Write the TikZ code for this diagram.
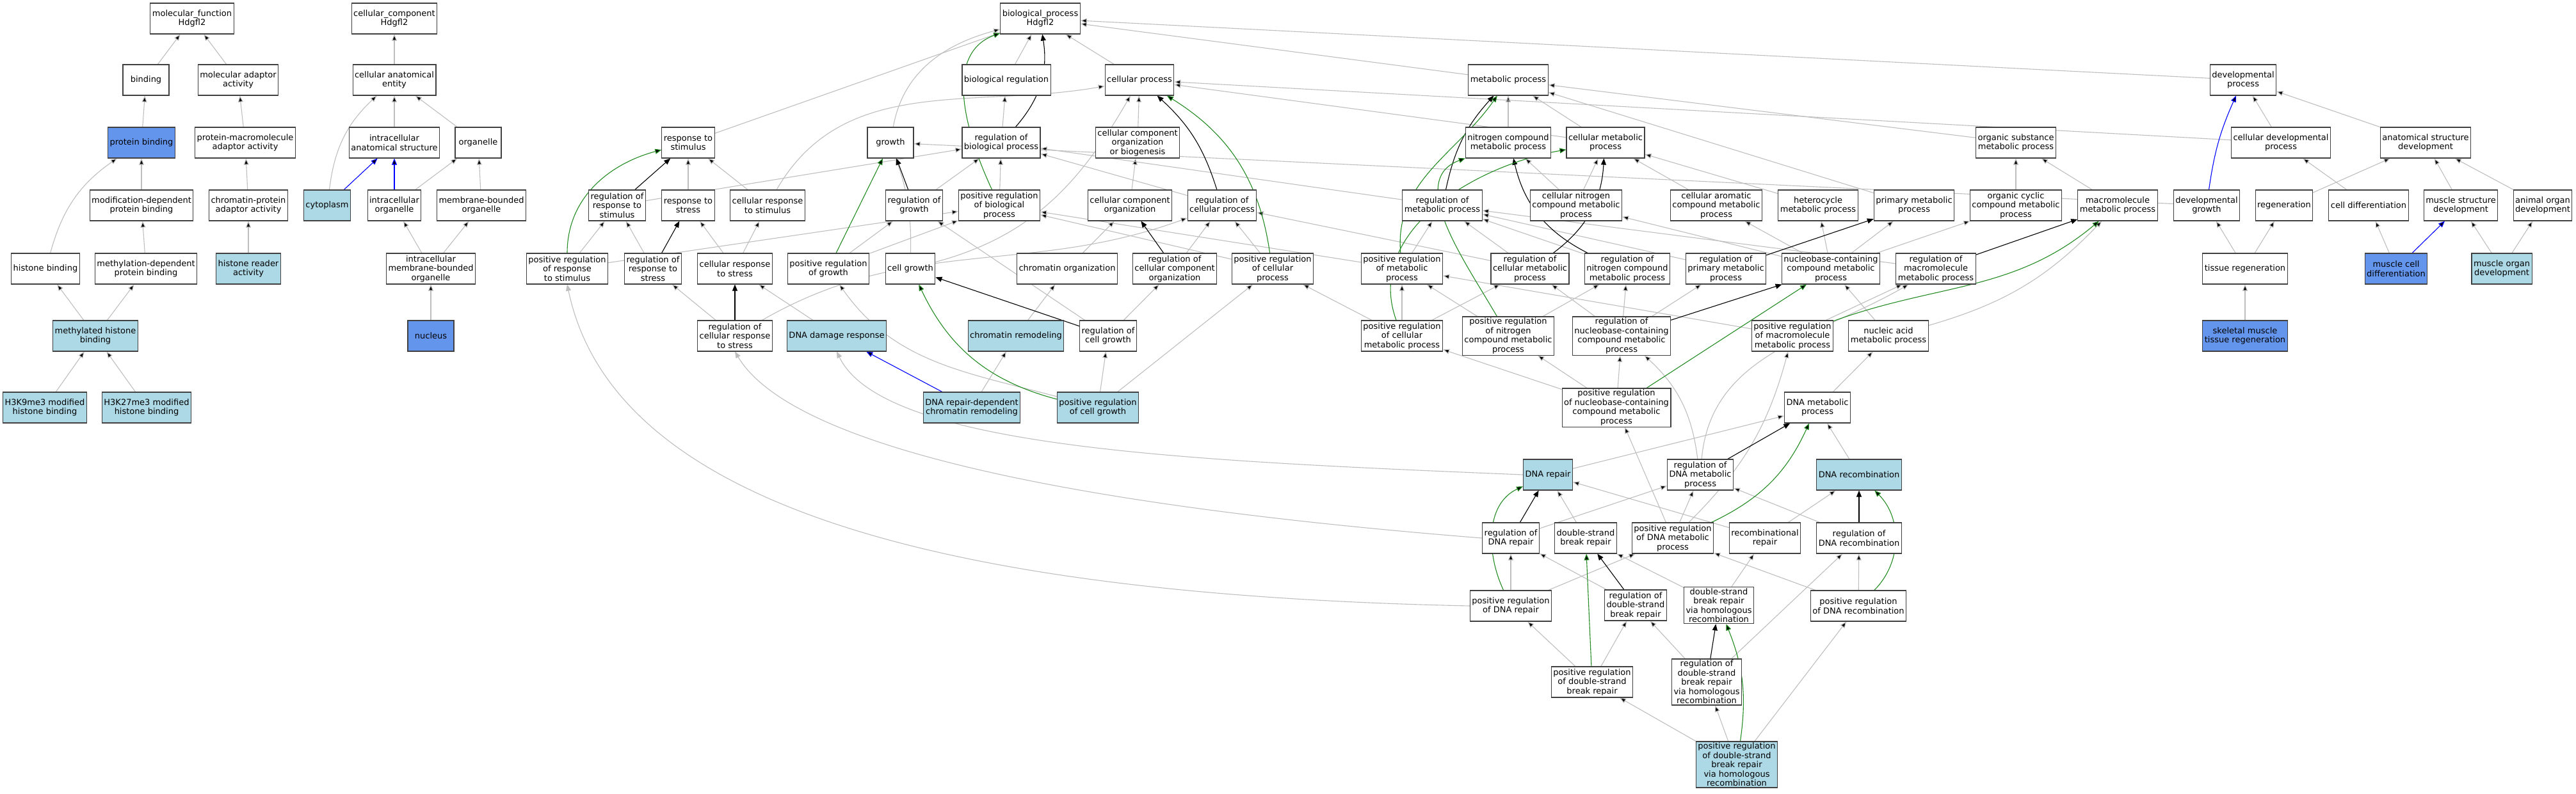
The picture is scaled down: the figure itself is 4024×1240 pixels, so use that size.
\documentclass[tikz,border=0pt]{standalone}
\usepackage{fontspec}
\setmainfont{DejaVu Sans}
\usetikzlibrary{arrows.meta,backgrounds}
\definecolor{hitblue}{HTML}{ADD8E6}
\definecolor{coreblue}{HTML}{6495ED}
\definecolor{isagray}{HTML}{BEBEBE}
\definecolor{posgreen}{HTML}{228B22}
\definecolor{boxgray}{HTML}{404040}
\tikzset{
  goterm/.style={draw=boxgray, line width=1.1pt, fill=white, align=center,
    minimum width=72pt, minimum height=48pt, inner xsep=3pt, inner ysep=2pt,
    font=\fontsize{13}{14.5}\selectfont},
  hit/.style={goterm, fill=hitblue},
  core/.style={goterm, fill=coreblue},
  gotip/.style={-{Triangle[length=10pt,width=8pt]}, line width=1.1pt},
  isa/.style={gotip, draw=isagray},
  regof/.style={gotip, draw=black},
  posof/.style={gotip, draw=posgreen},
  hilite/.style={gotip, draw=blue},
}

\begin{document}
\begin{tikzpicture}[x=1pt,y=1pt]
        \useasboundingbox (0,0) rectangle (4024,-1240);
        % molecular function
        \node[goterm] (mf) at (300,-29) {molecular\_function\\Hdgfl2};
        \node[goterm] (binding) at (228,-125) {binding};
        \node[goterm] (molad) at (372,-125) {molecular adaptor\\activity};
        \node[core] (pbind) at (221,-223) {protein binding};
        \node[goterm] (pmaa) at (383,-223) {protein-macromolecule\\adaptor activity};
        \node[goterm] (moddep) at (221,-321) {modification-dependent\\protein binding};
        \node[goterm] (cpaa) at (388,-321) {chromatin-protein\\adaptor activity};
        \node[goterm] (hbind) at (71,-420) {histone binding};
        \node[goterm] (methdep) at (228,-420) {methylation-dependent\\protein binding};
        \node[hit] (hra) at (388,-420) {histone reader\\activity};
        \node[hit] (mhb) at (149,-525) {methylated histone\\binding};
        \node[hit] (h3k9) at (70,-637) {H3K9me3 modified\\histone binding};
        \node[hit] (h3k27) at (229,-637) {H3K27me3 modified\\histone binding};
        % cellular component
        \node[goterm] (cc) at (616,-29) {cellular\_component\\Hdgfl2};
        \node[goterm] (cae) at (616,-125) {cellular anatomical\\entity};
        \node[goterm] (ias) at (616,-223) {intracellular\\anatomical structure};
        \node[goterm] (organelle) at (747,-223) {organelle};
        \node[hit] (cytoplasm) at (511,-321) {cytoplasm};
        \node[goterm] (intorg) at (616,-321) {intracellular\\organelle};
        \node[goterm] (mbo) at (752,-321) {membrane-bounded\\organelle};
        \node[goterm] (imbo) at (673,-420) {intracellular\\membrane-bounded\\organelle};
        \node[core] (nucleus) at (673,-525) {nucleus};
        % biological process
        \node[goterm] (bp) at (1625,-29) {biological\_process\\Hdgfl2};
        \node[goterm] (bioreg) at (1572,-125) {biological regulation};
        \node[goterm] (cellproc) at (1780,-125) {cellular process};
        \node[goterm] (metab) at (2356,-125) {metabolic process};
        \node[goterm] (devproc) at (3504,-125) {developmental\\process};
        \node[goterm] (respstim) at (1075,-223) {response to\\stimulus};
        \node[goterm] (growth) at (1391,-223) {growth};
        \node[goterm] (regbio) at (1564,-223) {regulation of\\biological process};
        \node[goterm] (ccoob) at (1777,-223) {cellular component\\organization\\or biogenesis};
        \node[goterm] (nitro) at (2356,-223) {nitrogen compound\\metabolic process};
        \node[goterm] (cellmetab) at (2508,-223) {cellular metabolic\\process};
        \node[goterm] (orgsub) at (3149,-223) {organic substance\\metabolic process};
        \node[goterm] (celldev) at (3563,-223) {cellular developmental\\process};
        \node[goterm] (anatdev) at (3789,-223) {anatomical structure\\development};
        \node[goterm] (regrespstim) at (964,-321) {regulation of\\response to\\stimulus};
        \node[goterm] (respstress) at (1075,-321) {response to\\stress};
        \node[goterm] (cellrespstim) at (1199,-321) {cellular response\\to stimulus};
        \node[goterm] (reggrowth) at (1428,-321) {regulation of\\growth};
        \node[goterm] (posregbio) at (1561,-321) {positive regulation\\of biological\\process};
        \node[goterm] (ccorg) at (1765,-321) {cellular component\\organization};
        \node[goterm] (regcell) at (1909,-321) {regulation of\\cellular process};
        \node[goterm] (regmetab) at (2253,-321) {regulation of\\metabolic process};
        \node[goterm] (cellnitro) at (2462,-321) {cellular nitrogen\\compound metabolic\\process};
        \node[goterm] (cellarom) at (2681,-321) {cellular aromatic\\compound metabolic\\process};
        \node[goterm] (hetero) at (2840,-321) {heterocycle\\metabolic process};
        \node[goterm] (primary) at (2990,-321) {primary metabolic\\process};
        \node[goterm] (orgcyc) at (3149,-321) {organic cyclic\\compound metabolic\\process};
        \node[goterm] (macromol) at (3308,-321) {macromolecule\\metabolic process};
        \node[goterm] (devgrowth) at (3447,-321) {developmental\\growth};
        \node[goterm] (regen) at (3568,-321) {regeneration};
        \node[goterm] (celldiff) at (3700,-321) {cell differentiation};
        \node[goterm] (musstruct) at (3844,-321) {muscle structure\\development};
        \node[goterm] (animorg) at (3972,-321) {animal organ\\development};
        \node[goterm] (posregrespstim) at (886,-420) {positive regulation\\of response\\to stimulus};
        \node[goterm] (regrespstress) at (1020,-420) {regulation of\\response to\\stress};
        \node[goterm] (cellrespstress) at (1148,-420) {cellular response\\to stress};
        \node[goterm] (posreggrowth) at (1294,-420) {positive regulation\\of growth};
        \node[goterm] (cellgrowth) at (1422,-420) {cell growth};
        \node[goterm] (chromorg) at (1667,-420) {chromatin organization};
        \node[goterm] (regccorg) at (1835,-420) {regulation of\\cellular component\\organization};
        \node[goterm] (posregcell) at (1988,-420) {positive regulation\\of cellular\\process};
        \node[goterm] (posregmetab) at (2190,-420) {positive regulation\\of metabolic\\process};
        \node[goterm] (regcellmetab) at (2390,-420) {regulation of\\cellular metabolic\\process};
        \node[goterm] (regnitro) at (2542,-420) {regulation of\\nitrogen compound\\metabolic process};
        \node[goterm] (regprimary) at (2696,-420) {regulation of\\primary metabolic\\process};
        \node[goterm] (nucleobase) at (2860,-420) {nucleobase-containing\\compound metabolic\\process};
        \node[goterm] (regmacromol) at (3024,-420) {regulation of\\macromolecule\\metabolic process};
        \node[goterm] (tissueregen) at (3507,-420) {tissue regeneration};
        \node[core] (muscelldiff) at (3743,-420) {muscle cell\\differentiation};
        \node[hit] (musorg) at (3908,-420) {muscle organ\\development};
        \node[goterm] (regcellrespstress) at (1148,-525) {regulation of\\cellular response\\to stress};
        \node[hit] (dnadamage) at (1307,-525) {DNA damage response};
        \node[hit] (chromremod) at (1587,-525) {chromatin remodeling};
        \node[goterm] (regcellgrowth) at (1731,-525) {regulation of\\cell growth};
        \node[goterm] (posregcellmetab) at (2190,-525) {positive regulation\\of cellular\\metabolic process};
        \node[goterm] (posregnitro) at (2356,-525) {positive regulation\\of nitrogen\\compound metabolic\\process};
        \node[goterm] (regnucleobase) at (2533,-525) {regulation of\\nucleobase-containing\\compound metabolic\\process};
        \node[goterm] (posregmacromol) at (2800,-525) {positive regulation\\of macromolecule\\metabolic process};
        \node[goterm] (nucleicacid) at (2950,-525) {nucleic acid\\metabolic process};
        \node[core] (skeletal) at (3507,-525) {skeletal muscle\\tissue regeneration};
        \node[hit] (dnarepchrom) at (1518,-637) {DNA repair-dependent\\chromatin remodeling};
        \node[hit] (posregcellgrowth) at (1715,-637) {positive regulation\\of cell growth};
        \node[goterm] (posregnucleobase) at (2525,-637) {positive regulation\\of nucleobase-containing\\compound metabolic\\process};
        \node[goterm] (dnametab) at (2839,-637) {DNA metabolic\\process};
        \node[hit] (dnarepair) at (2418,-742) {DNA repair};
        \node[goterm] (regdnametab) at (2656,-742) {regulation of\\DNA metabolic\\process};
        \node[hit] (dnarecomb) at (2904,-742) {DNA recombination};
        \node[goterm] (regdnarepair) at (2360,-841) {regulation of\\DNA repair};
        \node[goterm] (dsbrepair) at (2477,-841) {double-strand\\break repair};
        \node[goterm] (posregdnametab) at (2613,-841) {positive regulation\\of DNA metabolic\\process};
        \node[goterm] (recombrepair) at (2757,-841) {recombinational\\repair};
        \node[goterm] (regdnarecomb) at (2904,-841) {regulation of\\DNA recombination};
        \node[goterm] (posregdnarepair) at (2360,-947) {positive regulation\\of DNA repair};
        \node[goterm] (regdsb) at (2555,-946) {regulation of\\double-strand\\break repair};
        \node[goterm] (dsbhr) at (2685,-946) {double-strand\\break repair\\via homologous\\recombination};
        \node[goterm] (posregdnarecomb) at (2903,-947) {positive regulation\\of DNA recombination};
        \node[goterm] (posregdsb) at (2487,-1066) {positive regulation\\of double-strand\\break repair};
        \node[goterm] (regdsbhr) at (2666,-1066) {regulation of\\double-strand\\break repair\\via homologous\\recombination};
        \node[hit] (posregdsbhr) at (2713,-1195) {positive regulation\\of double-strand\\break repair\\via homologous\\recombination};

        \begin{pgfonlayer}{background}
        \path[isa]
        (binding) edge (mf)
        (molad) edge (mf)
        (pbind) edge (binding)
        (pmaa) edge (molad)
        (hbind) edge[bend left=20] (pbind)
        (moddep) edge (pbind)
        (cpaa) edge (pmaa)
        (methdep) edge (moddep)
        (hra) edge (cpaa)
        (mhb) edge (hbind)
        (mhb) edge (methdep)
        (h3k9) edge (mhb)
        (h3k27) edge (mhb)
        (cae) edge (cc)
        (ias) edge (cae)
        (cytoplasm) edge[bend left=20] (cae)
        (organelle) edge (cae)
        (intorg) edge (organelle)
        (mbo) edge (organelle)
        (imbo) edge (intorg)
        (imbo) edge (mbo)
        (nucleus) edge (imbo)
        % level 1 and 2
        (bioreg) edge (bp)
        (cellproc) edge (bp)
        (metab) edge (bp)
        (devproc) edge (bp)
        (respstim) edge (bp)
        (growth) edge[out=80,in=195] (bp)
        (regbio) edge (bioreg)
        (ccoob) edge (cellproc)
        (nitro) edge (metab)
        (cellmetab) edge (metab)
        (cellmetab) edge (cellproc)
        (orgsub) edge (metab)
        (celldev) edge (devproc)
        (celldev) edge (cellproc)
        (anatdev) edge (devproc)
        % level 3
        (regrespstim) edge (regbio)
        (respstress) edge (respstim)
        (cellrespstim) edge (respstim)
        (cellrespstim) edge[out=60,in=190] (cellproc)
        (reggrowth) edge (regbio)
        (posregbio) edge (regbio)
        (ccorg) edge (ccoob)
        (regcell) edge (regbio)
        (regmetab) edge (regbio)
        (cellnitro) edge (nitro)
        (cellnitro) edge (cellmetab)
        (cellarom) edge (cellmetab)
        (hetero) edge (cellmetab)
        (primary) edge (metab)
        (orgcyc) edge (orgsub)
        (macromol) edge (orgsub)
        (devgrowth) edge (growth)
        (regen) edge (anatdev)
        (celldiff) edge (celldev)
        (musstruct) edge (anatdev)
        (animorg) edge (anatdev)
        % level 4
        (posregrespstim) edge (regrespstim)
        (posregrespstim) edge (posregbio)
        (regrespstress) edge (regrespstim)
        (cellrespstress) edge (respstress)
        (cellrespstress) edge (cellrespstim)
        (posreggrowth) edge (reggrowth)
        (posreggrowth) edge (posregbio)
        (cellgrowth) edge[bend right=10] (growth)
        (cellgrowth) edge[out=15,in=240] (cellproc)
        (chromorg) edge (ccorg)
        (regccorg) edge (regcell)
        (posregcell) edge (regcell)
        (posregcell) edge (posregbio)
        (posregmetab) edge (regmetab)
        (posregmetab) edge (posregbio)
        (regcellmetab) edge (regmetab)
        (regcellmetab) edge (regcell)
        (regnitro) edge (regmetab)
        (regprimary) edge (regmetab)
        (nucleobase) edge (cellarom)
        (nucleobase) edge (cellnitro)
        (nucleobase) edge (hetero)
        (nucleobase) edge (primary)
        (nucleobase) edge (orgcyc)
        (regmacromol) edge (regmetab)
        (tissueregen) edge (devgrowth)
        (tissueregen) edge (regen)
        (muscelldiff) edge (celldiff)
        (musorg) edge (musstruct)
        (musorg) edge (animorg)
        % level 5
        (regcellrespstress) edge (regrespstress)
        (regcellrespstress) edge[out=30,in=200] (regcell)
        (dnadamage) edge (cellrespstress)
        (chromremod) edge (chromorg)
        (regcellgrowth) edge (reggrowth)
        (regcellgrowth) edge (regccorg)
        (posregcellmetab) edge (posregmetab)
        (posregcellmetab) edge (regcellmetab)
        (posregcellmetab) edge (posregcell)
        (posregnitro) edge (posregmetab)
        (posregnitro) edge (regnitro)
        (regnucleobase) edge (regnitro)
        (regnucleobase) edge (regcellmetab)
        (regnucleobase) edge (regprimary)
        (posregmacromol) edge (regmacromol)
        (posregmacromol) edge (posregmetab)
        (nucleicacid) edge (nucleobase)
        (nucleicacid) edge[bend right=15] (macromol)
        (skeletal) edge (tissueregen)
        % level 6 and below
        (dnarepchrom) edge (chromremod)
        (posregcellgrowth) edge (regcellgrowth)
        (posregcellgrowth) edge (posregcell)
        (posregcellgrowth) edge[out=165,in=-55] (posreggrowth)
        (posregnucleobase) edge (regnucleobase)
        (posregnucleobase) edge (posregnitro)
        (posregnucleobase) edge (posregcellmetab)
        (dnametab) edge (nucleicacid)
        (dnarepair) edge (dnametab)
        (regdnametab) edge[bend right=20] (regnucleobase)
        (regdnametab) edge[out=85,in=210] (regmacromol)
        (dnarecomb) edge (dnametab)
        (regdnarepair) edge (regdnametab)
        (dsbrepair) edge (dnarepair)
        (posregdnametab) edge (regdnametab)
        (posregdnametab) edge (posregnucleobase)
        (posregdnametab) edge[bend right=15] (posregmacromol)
        (recombrepair) edge (dnarecomb)
        (recombrepair) edge (dnarepair)
        (regdnarecomb) edge (regdnametab)
        (posregdnarepair) edge (regdnarepair)
        (posregdnarepair) edge (posregdnametab)
        (regdsb) edge (regdnarepair)
        (dsbhr) edge (dsbrepair)
        (dsbhr) edge (recombrepair)
        (posregdnarecomb) edge (regdnarecomb)
        (posregdnarecomb) edge (posregdnametab)
        (posregdsb) edge (regdsb)
        (posregdsb) edge (posregdnarepair)
        (regdsbhr) edge (regdsb)
        (regdsbhr) edge (regdnarecomb)
        (posregdsbhr) edge (regdsbhr)
        (posregdsbhr) edge (posregdnarecomb)
        (posregdsbhr) edge (posregdsb)
        ;
        % long ones, written out
        \draw[isa] (dnarepair.west) .. controls (1850,-720) and (1380,-700) .. (dnadamage.south);
        \draw[isa] (regdnarepair.west) .. controls (1800,-800) and (1250,-720) .. (regcellrespstress.south);
        \draw[isa] (posregdnarepair.west) .. controls (1500,-930) and (960,-800) .. (posregrespstim.south);
        \path[regof]
        (regbio) edge[bend right=25] (bp)
        (regrespstim) edge (respstim)
        (regrespstress) edge (respstress)
        (reggrowth) edge (growth)
        (regcell) edge[bend right=15] (cellproc)
        (regccorg) edge (ccorg)
        (regmetab) edge[bend left=15] (metab)
        (regnitro) edge[bend left=25] (nitro)
        (regcellmetab) edge[bend right=25] (cellmetab)
        (regprimary) edge (primary)
        (regmacromol) edge (macromol)
        (regcellrespstress) edge (cellrespstress)
        (regcellgrowth) edge (cellgrowth)
        (regnucleobase) edge (nucleobase)
        (regdnametab) edge (dnametab)
        (regdnarepair) edge (dnarepair)
        (regdnarecomb) edge (dnarecomb)
        (regdsb) edge (dsbrepair)
        (regdsbhr) edge (dsbhr)
        ;
        \path[posof]
        (posregbio) edge[out=115,in=200] (bp)
        (posregrespstim) edge[out=90,in=195] (respstim)
        (posreggrowth) edge (growth)
        (posregcell) edge[bend right=25] (cellproc)
        (posregmetab) edge[out=95,in=235] (metab)
        (posregnitro) edge[out=120,in=200] (nitro)
        (posregcellmetab) edge[out=110,in=190] (cellmetab)
        (posregnucleobase) edge (nucleobase)
        (posregmacromol) edge[out=20,in=220] (macromol)
        (posregcellgrowth) edge[bend left=25] (cellgrowth)
        (posregdnametab) edge[bend right=20] (dnametab)
        (posregdnarepair) edge[out=115,in=205] (dnarepair)
        (posregdnarecomb) edge[bend right=45] (dnarecomb)
        (posregdsb) edge (dsbrepair)
        (posregdsbhr) edge[bend right=15] (dsbhr)
        ;
        \path[hilite]
        (cytoplasm) edge (ias)
        (intorg) edge (ias)
        (dnarepchrom) edge (dnadamage)
        (devgrowth) edge[bend left=8] (devproc)
        (muscelldiff) edge (musstruct)
        ;
        \end{pgfonlayer}
\end{tikzpicture}
\end{document}
